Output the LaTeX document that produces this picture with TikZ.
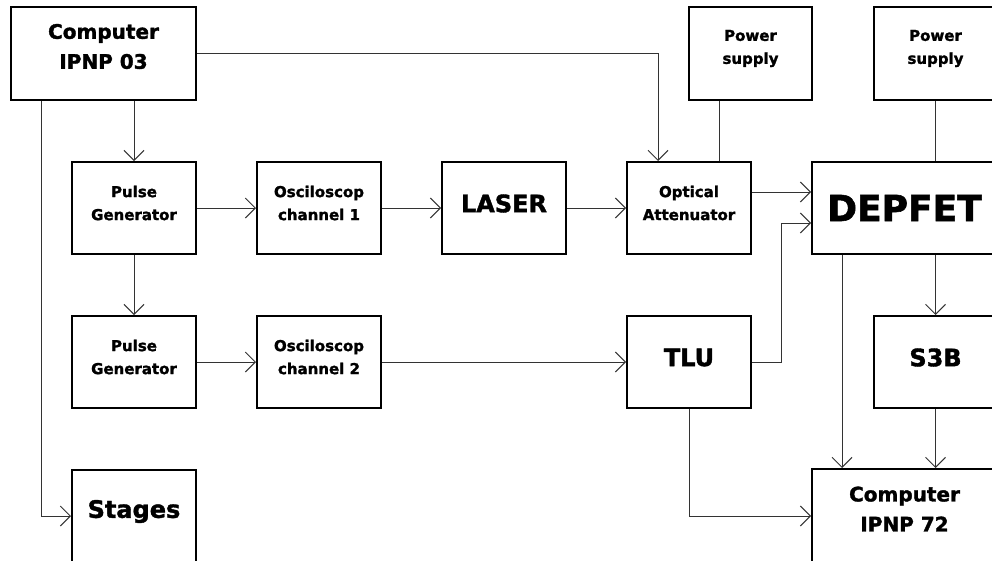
\documentclass[tikz,border=0pt]{standalone}
\usepackage{fontspec}
\setmainfont{DejaVu Sans}[BoldFeatures={FakeBold=1.6}]
\usetikzlibrary{arrows.meta}
\begin{document}
\begin{tikzpicture}[x=1pt,y=-1pt,
  box/.style={draw=black,line width=2pt,rectangle,inner sep=0pt,minimum width=124pt,minimum height=92pt},
  bigbox/.style={box,minimum width=185pt,minimum height=93pt},
  lab/.style={font=\bfseries\fontsize{15}{23}\selectfont,align=center,inner sep=0pt,yshift=5pt},
  midlab/.style={font=\bfseries\fontsize{24}{28}\selectfont,align=center,inner sep=0pt,yshift=4.5pt},
  complab/.style={font=\bfseries\fontsize{20}{30}\selectfont,align=center,inner sep=0pt,yshift=7pt},
  deplab/.style={font=\bfseries\fontsize{36}{40}\selectfont,align=center,inner sep=0pt},
  conn/.style={draw=black!80,line width=1pt},
  arr/.style={conn,-{Straight Barb[length=10pt,width=20pt,line width=1pt]}}
]
\useasboundingbox (0,0) rectangle (992,560);
\clip (0,0) rectangle (992,560);
\fill[white] (0,0) rectangle (992,560);

% top row
\node[bigbox,label={[complab]center:Computer\\IPNP 03}] (comp03) at (103.5,53.5) {};
\node[box,minimum width=123pt,minimum height=93pt,label={[lab]center:Power\\supply}] (ps1) at (750.5,53.5) {};
\node[box,minimum width=123pt,minimum height=93pt,label={[lab]center:Power\\supply}] (ps2) at (935.5,53.5) {};

% second row
\node[box,label={[lab]center:Pulse\\Generator}] (pg1) at (134,208) {};
\node[box,label={[lab]center:Osciloscop\\channel 1}] (osc1) at (319,208) {};
\node[box,label={[midlab]center:LASER}] (laser) at (504,208) {};
\node[box,label={[lab]center:Optical\\Attenuator}] (opt) at (689,208) {};
\node[bigbox,minimum height=92pt,label={[deplab]center:DEPFET}] (depfet) at (904.5,208) {};

% third row
\node[box,label={[lab]center:Pulse\\Generator}] (pg2) at (134,362) {};
\node[box,label={[lab]center:Osciloscop\\channel 2}] (osc2) at (319,362) {};
\node[box,label={[midlab]center:TLU}] (tlu) at (689,362) {};
\node[box,minimum width=123pt,label={[midlab]center:S3B}] (s3b) at (935.5,362) {};

% bottom row
\node[box,label={[midlab]center:Stages}] (stages) at (134,516) {};
\node[bigbox,minimum height=94pt,label={[complab]center:Computer\\IPNP 72}] (comp72) at (904.5,516) {};

% connectors
\draw[arr] (comp03.east) -| ([xshift=-31pt]opt.north);
\draw[arr] (pg1.north |- comp03.south) -- (pg1.north);
\draw[arr] ([xshift=-62.5pt]comp03.south) |- (stages.west);
\draw[arr] (pg1.east) -- (osc1.west);
\draw[arr] (osc1.east) -- (laser.west);
\draw[arr] (laser.east) -- (opt.west);
\draw[arr] (pg1.south) -- (pg2.north);
\draw[arr] (pg2.east) -- (osc2.west);
\draw[arr] (osc2.east) -- (tlu.west);
\draw[conn] ([xshift=-31.5pt]ps1.south) -- ([xshift=-31.5pt]ps1.south |- opt.north);
\draw[conn] (ps2.south) -- (ps2.south |- depfet.north);
\draw[arr] ([yshift=16pt]opt.east) -- ([yshift=16pt]opt.east -| depfet.west);
\coordinate (tj) at (781,223);
\draw[arr] (tlu.east) -| (tj) -- (tj -| depfet.west);
\draw[arr] ([xshift=-62.5pt]depfet.south) -- ([xshift=-62.5pt]depfet.south |- comp72.north);
\draw[arr] (s3b.north |- depfet.south) -- (s3b.north);
\draw[arr] (s3b.south) -- (s3b.south |- comp72.north);
\draw[arr] (tlu.south) |- (comp72.west);
\end{tikzpicture}
\end{document}
